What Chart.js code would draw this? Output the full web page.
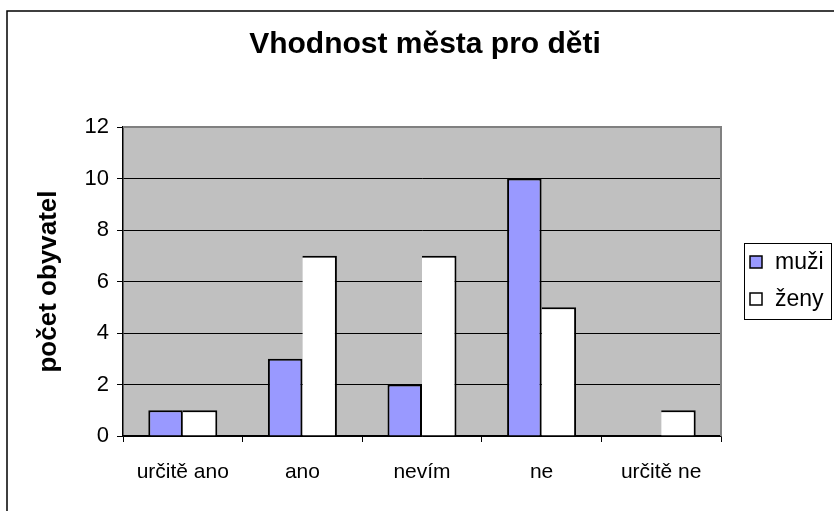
<!DOCTYPE html>
<html><head><meta charset="utf-8">
<script src="https://cdn.jsdelivr.net/npm/chart.js@4/dist/chart.umd.min.js"></script>
<style>html,body{margin:0;padding:0;background:#fff}#wrap{width:834px;height:511px;position:relative}</style>
</head><body><div id="wrap"><canvas id="c" width="834" height="511"></canvas></div>
<script>
const categories = ['určitě ano', 'ano', 'nevím', 'ne', 'určitě ne'];
const muzi = [1, 3, 2, 10, 0];
const zeny = [1, 7, 7, 5, 1];
const seriesNames = ['muži', 'ženy'];
const yTicks = [0, 2, 4, 6, 8, 10, 12];
const chartTitle = 'Vhodnost města pro děti';
const yTitle = 'počet obyvatel';

const FONT = '"Liberation Sans", Arial, Helvetica, sans-serif';
const colors = ['#9999FF', '#FFFFFF'];

const decor = {
  id: 'decor',
  beforeDraw(chart) {
    const ctx = chart.ctx, a = chart.chartArea;
    ctx.save();
    ctx.fillStyle = '#fff';
    ctx.fillRect(0, 0, chart.width, chart.height);
    ctx.strokeStyle = '#000';
    ctx.lineWidth = 1.5;
    ctx.strokeRect(7, 11, 900, 600);
    ctx.fillStyle = '#C0C0C0';
    ctx.fillRect(a.left, a.top, a.right - a.left, a.bottom - a.top);
    ctx.restore();
  },
  afterDraw(chart) {
    const ctx = chart.ctx, a = chart.chartArea;
    ctx.save();
    ctx.strokeStyle = '#808080';
    ctx.lineWidth = 2;
    ctx.beginPath();
    ctx.moveTo(a.left, a.top);
    ctx.lineTo(a.right, a.top);
    ctx.lineTo(a.right, a.bottom);
    ctx.stroke();
    ctx.fillStyle = '#000';
    ctx.font = 'bold 30px ' + FONT;
    ctx.textAlign = 'center';
    ctx.textBaseline = 'alphabetic';
    ctx.fillText(chartTitle, 425, 53);
    ctx.strokeStyle = '#000';
    ctx.lineWidth = 1;
    ctx.strokeRect(744.5, 243.5, 87, 76);
    ctx.font = '23px ' + FONT;
    ctx.textAlign = 'left';
    const ys = [262, 299];
    chart.data.datasets.forEach((ds, i) => {
      ctx.fillStyle = ds.backgroundColor;
      ctx.fillRect(750, ys[i] - 6, 12, 12);
      ctx.lineWidth = 1.5;
      ctx.strokeStyle = '#000';
      ctx.strokeRect(750, ys[i] - 6, 12, 12);
      ctx.fillStyle = '#000';
      ctx.fillText(ds.label, 775, ys[i] + 7);
    });
    ctx.restore();
  }
};

new Chart(document.getElementById('c'), {
  type: 'bar',
  data: {
    labels: categories,
    datasets: [
      { label: seriesNames[0], data: muzi, backgroundColor: colors[0], borderColor: '#000',
        borderWidth: 2, borderSkipped: 'bottom' },
      { label: seriesNames[1], data: zeny, backgroundColor: colors[1], borderColor: '#000',
        borderWidth: { left: 0, right: 2, top: 2, bottom: 0 }, borderSkipped: 'bottom' }
    ]
  },
  options: {
    responsive: false,
    animation: false,
    devicePixelRatio: 1,
    layout: { padding: { left: 0, top: 127, right: 113, bottom: 0 } },
    datasets: { bar: { categoryPercentage: 0.577, barPercentage: 1.0 } },
    plugins: { legend: { display: false }, title: { display: false }, tooltip: { enabled: false } },
    scales: {
      x: {
        afterFit(s) { s.height = 75; },
        grid: { offset: true, drawOnChartArea: false, drawTicks: true, tickLength: 6, color: '#000', lineWidth: 1 },
        border: { color: '#000', width: 1.5 },
        ticks: { color: '#000', font: { family: FONT, size: 21 }, padding: 18, maxRotation: 0, autoSkip: false }
      },
      y: {
        min: 0, max: 12,
        afterFit(s) { s.width = 123; },
        afterBuildTicks(s) { s.ticks = yTicks.map(v => ({ value: v })); },
        grid: { color: '#000', lineWidth: 1, drawTicks: true, tickLength: 6 },
        border: { color: '#000', width: 1.5 },
        ticks: { color: '#000', font: { family: FONT, size: 22 }, padding: 8 },
        title: { display: true, text: yTitle, color: '#000', font: { family: FONT, size: 26, weight: 'bold' }, padding: { top: 33, bottom: 0 } }
      }
    }
  },
  plugins: [decor]
});
</script>
</body></html>
